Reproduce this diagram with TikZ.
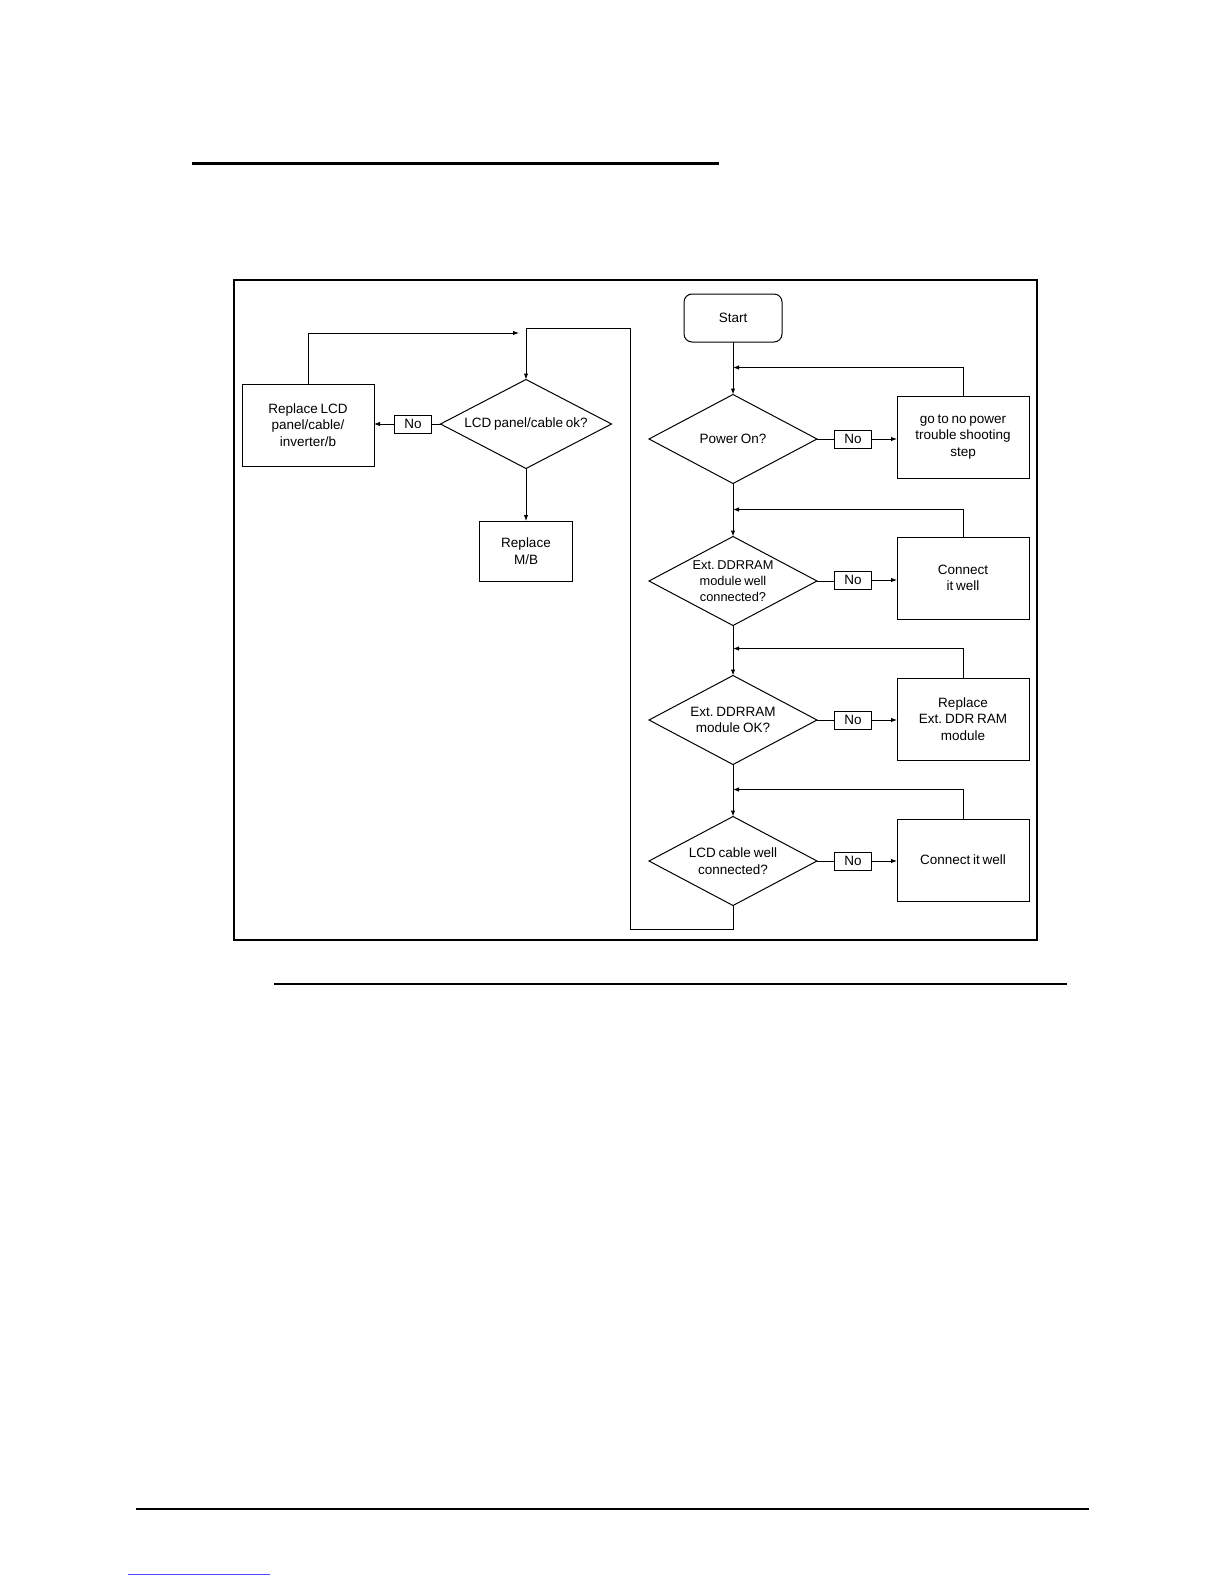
\documentclass[tikz,border=0pt]{standalone}
\usepackage{fontspec}
\setmainfont{Liberation Sans}[WordSpace=0.75]
\usetikzlibrary{arrows.meta,positioning,shapes.geometric}

\begin{document}
\begin{tikzpicture}[x=1pt,y=-1pt,
font=\fontsize{13.5}{16.5}\selectfont\frenchspacing,
box/.style={draw,line width=1pt,align=center,minimum width=132pt,minimum height=82pt,inner sep=2pt,outer sep=0pt},
terminal/.style={draw,line width=1pt,rounded corners=8pt,align=center,minimum width=98pt,minimum height=48pt,outer sep=0pt},
decision/.style={draw,line width=1pt,diamond,shape aspect=1.9,align=center,inner sep=0pt,minimum width=168pt,minimum height=89pt,outer sep=0pt},
nobox/.style={draw,line width=1pt,minimum width=37pt,minimum height=18pt,inner sep=1pt,outer sep=0pt},
flow/.style={-{Latex[length=6pt,width=4.5pt]},line width=1pt},
line/.style={line width=1pt},
node distance=52pt and 20pt]
\useasboundingbox (0,0) rectangle (1224,1584);
% page rules
\draw[line width=3pt] (192,163) -- (719,163);
\draw[line width=1.3pt] (274,984) -- (1067,984);
\draw[line width=1.3pt] (136,1509) -- (1089,1509);
\draw[blue!70,line width=1pt] (128,1574) -- (270,1574);
% frame
\draw[line width=2pt] (234,280) rectangle (1037,940);

% main column
\node[terminal] (start) at (733,318) {Start};
\node[decision] (power) at (733,439) {Power On?};
\node[decision,font=\fontsize{12.8}{16}\selectfont\frenchspacing] (ddrconn) at (733,581) {Ext. DDRRAM\\module well\\connected?};
\node[decision] (ddrok) at (733,720) {Ext. DDRRAM\\module OK?};
\node[decision] (lcdconn) at (733,861) {LCD cable well\\connected?};

% right column
\node[box] (nopower) at (963,437) {go to no power\\trouble shooting\\step};
\node[box] (connect1) at (963,578) {Connect\\it well};
\node[box] (replaceddr) at (963,719) {Replace\\Ext. DDR RAM\\module};
\node[box] (connect2) at (963,860) {Connect it well};
\node[nobox] (no1) at (853,439) {No};
\node[nobox] (no2) at (853,580) {No};
\node[nobox] (no3) at (853,720) {No};
\node[nobox] (no4) at (853,861) {No};

% left part
\node[decision,minimum width=171pt] (lcd) at (526,424) {LCD panel/cable ok?};
\node[nobox] (no5) at (413,424) {No};
\node[box] (replacelcd) at (308,425) {Replace LCD\\panel/cable/\\inverter/b};
\node[box,minimum width=93pt,minimum height=60pt] (mb) at (526,551) {Replace\\M/B};

\coordinate (loopbot) at (630,929);
\coordinate (looptop) at (630,328);
\coordinate (lcdback) at (519,333);

\draw[flow] (start) -- (power);
\draw[flow] (power) -- (ddrconn);
\draw[flow] (ddrconn) -- (ddrok);
\draw[flow] (ddrok) -- (lcdconn);
\foreach \q/\n/\b in {power/no1/nopower,ddrconn/no2/connect1,ddrok/no3/replaceddr,lcdconn/no4/connect2}{
  \draw[line] (\q.east) -- (\q.east -| \n.west);
  \draw[flow] (\n.east) -- (\n.east -| \b.west);
  \draw[flow] (\b.north) |- ([yshift=27pt]\q.north);
}
\draw[flow] (lcdconn.south) |- (loopbot) -- (looptop) -| (lcd.north);
\draw[line] (lcd.west) -- (no5.east);
\draw[flow] (no5.west) -- (no5.west -| replacelcd.east);
\draw[flow] (lcd.south) -- (mb.north);
\draw[flow] (replacelcd.north) |- (lcdback);
\end{tikzpicture}
\end{document}
